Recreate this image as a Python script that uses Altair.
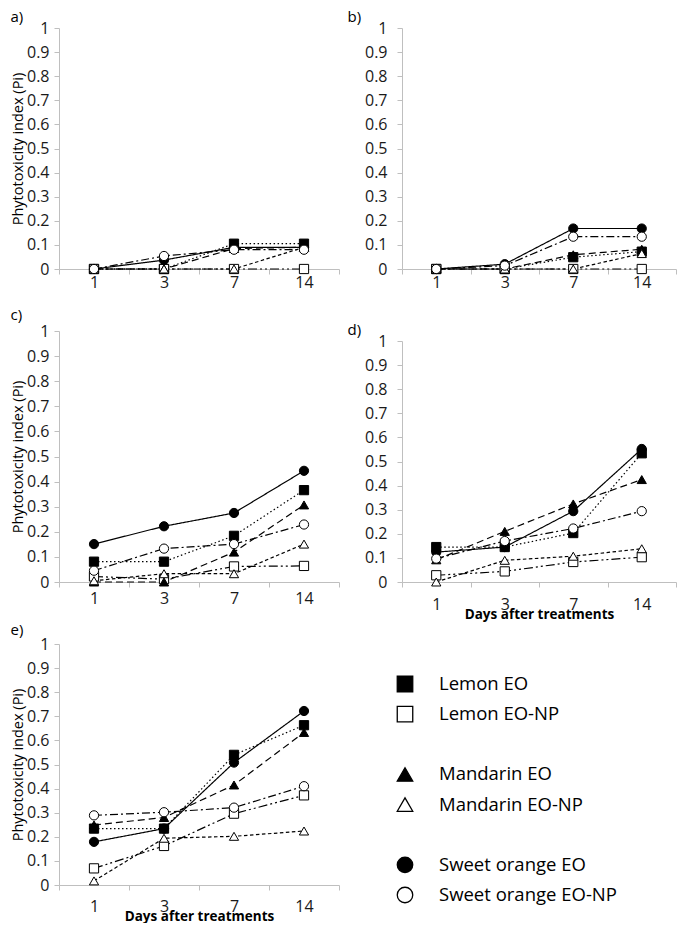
import altair as alt
import pandas as pd

days = [1, 3, 7, 14]
series = ["Lemon EO", "Lemon EO-NP", "Mandarin EO", "Mandarin EO-NP",
          "Sweet orange EO", "Sweet orange EO-NP"]
legend_rows = ["Lemon EO", "Lemon EO-NP", " ", "Mandarin EO", "Mandarin EO-NP",
               "  ", "Sweet orange EO", "Sweet orange EO-NP"]
y_ticks = [0, 0.1, 0.2, 0.3, 0.4, 0.5, 0.6, 0.7, 0.8, 0.9, 1]

# panel a)
a_lemon_eo = [0, 0, 0.105, 0.105]
a_lemon_np = [0, 0, 0, 0]
a_mand_eo = [0, 0, 0.085, 0.09]
a_mand_np = [0, 0, 0, 0.09]
a_orange_eo = [0, 0.037, 0.09, 0.09]
a_orange_np = [0, 0.054, 0.08, 0.08]
# panel b)
b_lemon_eo = [0, 0, 0.049, 0.072]
b_lemon_np = [0, 0, 0, 0]
b_mand_eo = [0, 0, 0.059, 0.082]
b_mand_np = [0, 0, 0, 0.064]
b_orange_eo = [0, 0.02, 0.168, 0.168]
b_orange_np = [0, 0.014, 0.134, 0.134]
# panel c)
c_lemon_eo = [0.081, 0.081, 0.184, 0.366]
c_lemon_np = [0.022, 0.011, 0.062, 0.064]
c_mand_eo = [0, 0, 0.119, 0.307]
c_mand_np = [0.005, 0.033, 0.033, 0.151]
c_orange_eo = [0.151, 0.222, 0.275, 0.443]
c_orange_np = [0.045, 0.133, 0.151, 0.229]
# panel d)
d_lemon_eo = [0.145, 0.145, 0.203, 0.534]
d_lemon_np = [0.028, 0.044, 0.083, 0.103]
d_mand_eo = [0.092, 0.21, 0.324, 0.425]
d_mand_np = [0, 0.09, 0.107, 0.138]
d_orange_eo = [0.124, 0.145, 0.294, 0.552]
d_orange_np = [0.097, 0.17, 0.222, 0.294]
# panel e)
e_lemon_eo = [0.234, 0.234, 0.54, 0.663]
e_lemon_np = [0.069, 0.162, 0.296, 0.372]
e_mand_eo = [0.249, 0.28, 0.415, 0.633]
e_mand_np = [0.017, 0.194, 0.202, 0.224]
e_orange_eo = [0.179, 0.234, 0.508, 0.722]
e_orange_np = [0.289, 0.302, 0.321, 0.41]

panel_values = {
    "a)": [a_lemon_eo, a_lemon_np, a_mand_eo, a_mand_np, a_orange_eo, a_orange_np],
    "b)": [b_lemon_eo, b_lemon_np, b_mand_eo, b_mand_np, b_orange_eo, b_orange_np],
    "c)": [c_lemon_eo, c_lemon_np, c_mand_eo, c_mand_np, c_orange_eo, c_orange_np],
    "d)": [d_lemon_eo, d_lemon_np, d_mand_eo, d_mand_np, d_orange_eo, d_orange_np],
    "e)": [e_lemon_eo, e_lemon_np, e_mand_eo, e_mand_np, e_orange_eo, e_orange_np],
}

rows = []
for pname, lists in panel_values.items():
    for s, vals in zip(series, lists):
        for d, v in zip(days, vals):
            rows.append({"panel": pname, "series": s, "day": d, "pi": v})
df = pd.DataFrame(rows)

FONT = "Open Sans"
dashes = [[1.5, 2.5], [9, 3, 2, 3, 2, 3], [7, 4], [3.5, 2.5], [1, 0], [8, 3, 2, 3]]
shapes = ["square", "square", "triangle-up", "triangle-up", "circle", "circle"]
fills = ["black", "white", "black", "white", "black", "white"]


def panel(name, width, height, yrange, ytitle, xtitle, xlabpad, ylabpad,
          title_dx, title_offset):
    data = df[df["panel"] == name]
    yscale = alt.Scale(domain=[0, 1], nice=False, range=yrange)
    yaxis = alt.Axis(values=y_ticks, format=".1~f", labelFontSize=16,
                     labelPadding=ylabpad, tickSize=5,
                     title="Phytotoxicity index (Pi)" if ytitle else None,
                     titleFontSize=14.5, titleFontWeight="normal",
                     titleColor="black", titlePadding=1)
    xaxis = alt.Axis(labelAngle=0, labelFontSize=16, labelPadding=xlabpad,
                     tickBand="extent", tickSize=5,
                     title="Days after treatments" if xtitle else None,
                     titleFontSize=13.5, titleFontWeight="bold",
                     titleColor="black", titlePadding=-5)
    x = alt.X("day:O", sort=days,
              scale=alt.Scale(type="band", paddingInner=0, paddingOuter=0),
              axis=xaxis)
    y = alt.Y("pi:Q", scale=yscale, axis=yaxis)
    dash = alt.StrokeDash("series:N",
                          scale=alt.Scale(domain=series, range=dashes),
                          legend=None)
    base = alt.Chart(data)
    lines = base.mark_line(color="black", strokeWidth=1.2).encode(
        x=x, y=y, strokeDash=dash, detail="series:N")
    pts = base.mark_point(filled=True, size=85, stroke="black",
                          strokeWidth=1, opacity=1).encode(
        x=x, y=y,
        shape=alt.Shape("series:N", scale=alt.Scale(domain=series, range=shapes),
                        legend=None),
        fill=alt.Fill("series:N", scale=alt.Scale(domain=series, range=fills),
                      legend=None))
    return alt.layer(lines, pts).properties(
        width=width, height=height,
        title=alt.TitleParams(name, anchor="start", frame="bounds",
                              fontSize=15, fontWeight="normal", font=FONT,
                              color="black", dx=title_dx, offset=title_offset))


pa = panel("a)", 280, 241, [241, 0], True, False, 0, 5, 0, -5)
pb = panel("b)", 274, 241, [241, 0], False, False, 0, 10, -17, -5)
pc = panel("c)", 280, 251, [251, 0], True, False, 3, 5, 0, 0)
pd_ = panel("d)", 274, 251, [251, 10], False, True, 9, 10, -17, -7)
pe = panel("e)", 280, 241, [241, 0], True, True, 8, 5, 0, -2)

leg_df = pd.DataFrame({"series": series})
ly = alt.Y("series:N", scale=alt.Scale(type="point", domain=legend_rows,
                                       range=[40, 251], padding=0), axis=None)
leg_pts = alt.Chart(leg_df).mark_point(filled=True, size=240, stroke="black",
                                       strokeWidth=1.3, opacity=1).encode(
    x=alt.value(3), y=ly,
    shape=alt.Shape("series:N", scale=alt.Scale(domain=series, range=shapes),
                    legend=None),
    fill=alt.Fill("series:N", scale=alt.Scale(domain=series, range=fills),
                  legend=None))
leg_txt = alt.Chart(leg_df).mark_text(align="left", baseline="middle", font=FONT,
                                      fontSize=18.5, color="black").encode(
    x=alt.value(37), y=ly, text="series:N")
leg = alt.layer(leg_pts, leg_txt).properties(width=270, height=241)

chart = alt.concat(pa, pb, pc, pd_, pe, leg, columns=2,
                   spacing=alt.RowColnumber(row=62, column=63),
                   bounds="flush").properties(
    padding={"left": 2, "top": 1, "right": 0, "bottom": 0}).configure_view(
    stroke="transparent").configure_axis(
    domainColor="#bfbfbf", tickColor="#bfbfbf", labelColor="#1a1a1a",
    labelFont=FONT, titleFont=FONT, grid=False, domainWidth=1)

chart.save("out.html", embed_options={"renderer": "svg", "actions": False})
